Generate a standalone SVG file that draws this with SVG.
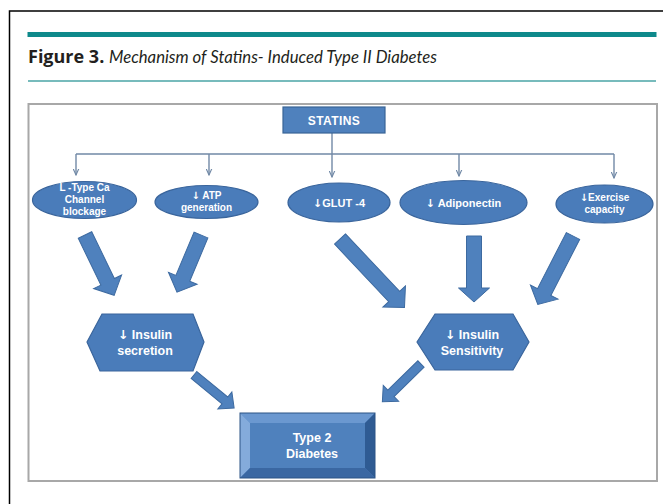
<svg xmlns="http://www.w3.org/2000/svg" width="663" height="504" viewBox="0 0 663 504">
<style>
.lbl{font-family:"Liberation Sans",Arial,sans-serif;font-weight:bold;fill:#ffffff;text-anchor:middle}
.ar{font-family:"DejaVu Sans",sans-serif;font-weight:bold}
.node{fill:#4a7cba;stroke:#3a659c;stroke-width:1.2}
.blk{fill:#4f81bd;stroke:#3d6aa0;stroke-width:1}
.conn{fill:none;stroke:#7189a6;stroke-width:1.4}
</style>
<defs>
<marker id="ah" viewBox="0 0 10 10" refX="9" refY="5" markerWidth="7" markerHeight="7" orient="auto" markerUnits="userSpaceOnUse">
<path d="M0,1 L9,5 L0,9" fill="none" stroke="#7189a6" stroke-width="1.6"/>
</marker>
</defs>
<rect width="663" height="504" fill="#ffffff"/>
<path d="M663,11 H9.5 V504" fill="none" stroke="#000" stroke-width="1.5"/>
<rect x="27.5" y="32" width="629" height="5" fill="#0e898b"/>
<text x="28" y="63" font-family="'Open Sans',Lato,sans-serif" font-weight="bold" font-size="18" fill="#231f20">Figure 3.</text>
<text x="109" y="63" font-family="Lato,'Open Sans',sans-serif" font-style="italic" font-size="16.5" fill="#231f20" textLength="328" lengthAdjust="spacingAndGlyphs">Mechanism of Statins- Induced Type II Diabetes</text>
<line x1="28" y1="81" x2="656" y2="81" stroke="#4aa4a6" stroke-width="1.3"/>
<rect x="28.5" y="104" width="628.5" height="377" fill="#ffffff" stroke="#a8a8a8" stroke-width="2"/>

<g id="connectors">
<path class="conn" d="M332,133 V154"/>
<path class="conn" d="M76,154 H614"/>
<path class="conn" d="M76,154 V175" marker-end="url(#ah)"/>
<path class="conn" d="M209,154 V175" marker-end="url(#ah)"/>
<path class="conn" d="M332,154 V177" marker-end="url(#ah)"/>
<path class="conn" d="M459,154 V176" marker-end="url(#ah)"/>
<path class="conn" d="M614,154 V178" marker-end="url(#ah)"/>
<path class="blk" transform="translate(85,235) rotate(64.2)" d="M0,-7.5 H52 V-15.5 L67,0 L52,15.5 V7.5 H0 Z"/>
<path class="blk" transform="translate(201,235) rotate(112.8)" d="M0,-7.5 H47 V-15.5 L62,0 L47,15.5 V7.5 H0 Z"/>
<path class="blk" transform="translate(340,239) rotate(46.7)" d="M0,-7.5 H79 V-15.5 L94,0 L79,15.5 V7.5 H0 Z"/>
<path class="blk" transform="translate(474,236) rotate(90)" d="M0,-7.5 H52 V-15.5 L66,0 L52,15.5 V7.5 H0 Z"/>
<path class="blk" transform="translate(573,236) rotate(117.2)" d="M0,-7.5 H63 V-15.5 L77,0 L63,15.5 V7.5 H0 Z"/>
<path class="blk" transform="translate(194,375) rotate(39.5)" d="M0,-4.5 H40 V-11 L52,0 L40,11 V4.5 H0 Z"/>
<path class="blk" transform="translate(421,364) rotate(135.7)" d="M0,-4.5 H42 V-11 L54,0 L42,11 V4.5 H0 Z"/>
</g>

<g id="statins">
<rect x="283" y="107" width="102" height="26" fill="#4f81bd" stroke="#3a6596" stroke-width="1.2"/>
<text class="lbl" x="334" y="124.5" font-size="12" letter-spacing="0.4">STATINS</text>
</g>

<g id="ltype">
<ellipse class="node" cx="84.5" cy="200" rx="52" ry="18.5"/>
<text class="lbl" font-size="10"><tspan x="84.5" y="191">L -Type Ca</tspan><tspan x="84.5" y="203">Channel</tspan><tspan x="84.5" y="215">blockage</tspan></text>
</g>

<g id="atp">
<ellipse class="node" cx="206.5" cy="202" rx="51.5" ry="16.5"/>
<text class="lbl" font-size="10"><tspan x="206.5" y="198.5"><tspan class="ar">↓</tspan> ATP</tspan><tspan x="206.5" y="211">generation</tspan></text>
</g>

<g id="glut4">
<ellipse class="node" cx="339" cy="202.5" rx="51" ry="19.5"/>
<text class="lbl" x="339" y="206.5" font-size="11"><tspan class="ar">↓</tspan>GLUT -4</text>
</g>

<g id="adiponectin">
<ellipse class="node" cx="463.5" cy="202.5" rx="63.5" ry="22"/>
<text class="lbl" x="463.5" y="206.5" font-size="11"><tspan class="ar">↓</tspan> Adiponectin</text>
</g>

<g id="exercise">
<ellipse class="node" cx="604.5" cy="204" rx="48.5" ry="19"/>
<text class="lbl" font-size="10"><tspan x="604.5" y="200.5"><tspan class="ar">↓</tspan>Exercise</tspan><tspan x="604.5" y="213">capacity</tspan></text>
</g>

<g id="insulin-secretion">
<polygon class="node" points="87,342 102,314 193,314 204,342 193,371 100,371"/>
<text class="lbl" font-size="12.5"><tspan x="145" y="339"><tspan class="ar">↓</tspan> Insulin</tspan><tspan x="145" y="355">secretion</tspan></text>
</g>

<g id="insulin-sensitivity">
<polygon class="node" points="417,342 435,314 513,314 529,342 513,370 435,370"/>
<text class="lbl" font-size="12.5"><tspan x="472" y="339"><tspan class="ar">↓</tspan> Insulin</tspan><tspan x="472" y="355">Sensitivity</tspan></text>
</g>

<g id="type2">
<rect x="240" y="413" width="135" height="65" fill="#4f81bd"/>
<polygon points="240,413 375,413 365,423 250,423" fill="#6b98d0"/>
<polygon points="240,413 250,423 250,468 240,478" fill="#84abdb"/>
<polygon points="375,413 375,478 365,468 365,423" fill="#2f5b93"/>
<polygon points="240,478 250,468 365,468 375,478" fill="#3a67a2"/>
<rect x="240" y="413" width="135" height="65" fill="none" stroke="#2d5486" stroke-width="1"/>
<text class="lbl" font-size="12.5"><tspan x="312" y="442">Type 2</tspan><tspan x="312" y="458">Diabetes</tspan></text>
</g>
</svg>
